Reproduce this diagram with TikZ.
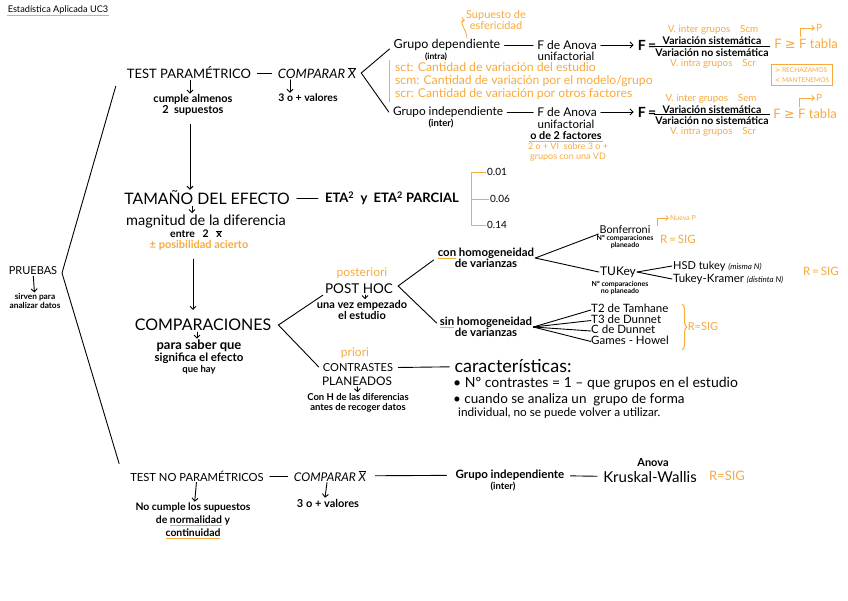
\documentclass[tikz,border=0pt]{standalone}
\usepackage{fontspec}
\setmainfont{Lato}
\newfontfamily\dv{DejaVu Sans}
\usetikzlibrary{arrows.meta,calc,decorations.pathreplacing}
\definecolor{org}{RGB}{248,170,62}
\newcommand\oul[1]{\setbox0\hbox{#1}\rlap{\color{org}\rule[-2.5pt]{\wd0}{0.9pt}}\box0\relax}
\newcommand\mybar[1]{$\overline{\hbox{#1}}$}
\begin{document}
\begin{tikzpicture}[x=1pt,y=-1pt,
 every node/.style={inner sep=1pt,align=center,text=black},
 fs/.style 2 args={font=\fontsize{#1}{#2}\selectfont},
 fb/.style 2 args={font=\fontsize{#1}{#2}\selectfont\bfseries},
 o/.style={text=org},
 ln/.style={line width=0.9pt,line cap=round},
 ar/.style={ln,-{Straight Barb[length=3pt,width=6pt]}},
 oar/.style={draw=org,line width=0.8pt,-{Straight Barb[length=2.5pt,width=5pt]}},
 ol/.style={draw=org,line width=1pt},
 tight/.style={inner sep=0pt,text height=7pt,text depth=1.5pt}]
\useasboundingbox (0,0) rectangle (848,600);
\fill[white] (0,0) rectangle (848,600);

% title
\node[fs={9.2}{10}] (title) at (58,10) {Estadística Aplicada UC3};
\draw[ol] (title.south west) -- (title.south east);

% PRUEBAS
\node[fs={11}{12}] (pru) at (33,271) {PRUEBAS};
\node[fb={8.3}{8.5}] (sirv) at (35,301) {sirven para\\analizar datos};
\draw[ar] (pru) -- (sirv);

% TEST PARAMETRICO row
\node[fs={13}{14}] (tp) at (189,73) {TEST PARAMÉTRICO};
\node[fs={13}{14}] (cmp) at (317,73) {\itshape COMPARAR \mybar{X}};
\draw[ln,shorten <=5pt,shorten >=5pt] (tp) -- (cmp);
\node[fb={11}{10.5}] (cum) at (193,105) {cumple almenos\\2\ \ supuestos};
\node[fb={10.5}{11}] (val) at (308,98) {3 o + valores};
\draw[ar] ([xshift=1pt]tp.south) -- ([xshift=-3pt]cum.north);
\draw[ar] ([xshift=-27pt]cmp.south) -- ([xshift=-18pt]val.north);

% big bracket
\coordinate (btip) at (62,273);
\node[fs={11.2}{13}] (tnp) at (197,476) {TEST NO PARAMÉTRICOS};
\draw[ln] ($(tp.south west)+(-10,6)$) -- (btip) -- ($(tnp.north west)+(-10,-6)$);

% grupo dependiente
\node[fs={12.5}{13}] (gd) at (447,45) {Grupo dependiente};
\node[fb={8.5}{9}] (intra) at (436,57) {(intra)};
\node[fs={11}{10.5},o] (esf) at (496,20) {Supuesto de\\esfericidad};
\draw[oar] ([xshift=20pt]gd.north) to[out=90,in=180] (esf.west);
\node[fs={12}{12}] (fa1) at (567,45) {F de Anova};
\node[fs={11.5}{12}] (uni1) at (566,56) {unifactorial};
\draw[ln,shorten <=3pt,shorten >=3pt] (gd) -- (fa1);
\node[fb={14}{15}] (feq1) at (647,45) {F\,=};
\draw[ar,shorten <=3pt,shorten >=3pt] (fa1) -- (feq1);
\node[fs={9.8}{10},o] (vi1) at (713,30) {V. inter grupos\quad Scm};
\node[fb={10.5}{11}] (vs1) at (712,41) {Variación sistemática};
\node[fb={10.5}{11}] (vn1) at (712,53) {Variación no sistemática};
\node[fs={9.8}{10},o] (vr1) at (713,64) {V. intra grupos\quad Scr};
\draw[ln] ($(vn1.north west)+(0,-1)$) -- ($(vn1.north east)+(0,-1)$);
\node[fs={13}{14},o] (ft1) at (806,44) {F {\dv≥} F tabla};
\node[fs={10}{10},o] (P1) at (819,28) {P};
\draw[oar] ($(ft1.north)+(-6,-1)$) |- (P1.west);
\node[draw=org,line width=1pt,o,fs={6.6}{10},inner sep=3pt,align=left] (box) at (802,75) {{\dv>} RECHAZAMOS\\{\dv<} MANTENEMOS};

% sc lines
\node[fs={12.2}{13},o,anchor=west] (sct) at (394,67) {sct: Cantidad de variación del estudio};
\node[fs={12.2}{13},o,anchor=west] (scm) at (394,81) {scm: Cantidad de variación por el modelo/grupo};
\node[fs={12.2}{13},o,anchor=west] (scr) at (394,94) {scr: Cantidad de variación por otros factores};
\draw[ol] ($(sct.north west)+(-5,-1)$) -- ($(scr.south west)+(-5,1)$);

% grupo independiente
\node[fs={11.8}{12}] (gi) at (448,112) {Grupo independiente};
\node[fb={9.5}{10}] (inter) at (441,124) {(inter)};
\coordinate (ctip) at ($(cmp.east)+(4,0)$);
\draw[ln] ($(gd.west)+(-3,4)$) -- (ctip) -- ($(gi.west)+(-3,0)$);
\node[fs={12}{12}] (fa2) at (567,112) {F de Anova};
\node[fs={11.5}{12}] (uni2) at (566,124) {unifactorial};
\node[fb={10.8}{11}] (o2f) at (566,136) {o de 2 factores};
\draw[ol] (o2f.south west) -- (o2f.south east);
\node[fs={9}{10},o] (note) at (568,152) {2 o + VI\ \ sobre 3 o +\\grupos con una VD};
\draw[ln,shorten <=3pt,shorten >=3pt] (gi) -- (fa2);
\node[fb={14}{15}] (feq2) at (647,112) {F\,=};
\draw[ar,shorten <=3pt,shorten >=3pt] (fa2) -- (feq2);
\node[fs={9.8}{10},o] (vi2) at (711,99) {V. inter grupos\quad Sem};
\node[fb={10.5}{11}] (vs2) at (712,110) {Variación sistemática};
\node[fb={10.5}{11}] (vn2) at (712,121) {Variación no sistemática};
\node[fs={9.8}{10},o] (vr2) at (713,132) {V. intra grupos\quad Scr};
\draw[ln] ($(vn2.north west)+(0,-1)$) -- ($(vn2.north east)+(0,-1)$);
\node[fs={13}{14},o] (ft2) at (805,114) {F {\dv≥} F tabla};
\node[fs={10}{10},o] (P2) at (819,98) {P};
\draw[oar] ($(ft2.north)+(-6,-1)$) |- (P2.west);

% tamano del efecto
\node[fs={15.8}{16}] (tam) at (207,198) {TAMAÑO DEL EFECTO};
\draw[ar] ([xshift=-3pt,yshift=-8pt]cum.south) -- ([xshift=-17pt]tam.north);
\node[fb={13}{14}] (eta) at (392,198) {ETA\textsuperscript{2}\ \ y\ \ ETA\textsuperscript{2} PARCIAL};
\draw[ln,shorten <=6pt,shorten >=6pt] (tam) -- (eta);
\node[fs={10}{10}] (v01) at (497,172) {0.01};
\node[fs={10}{10}] (v06) at (500,199) {0.06};
\node[fs={10}{10}] (v14) at (497,225) {0.14};
\coordinate (bkx) at ($(v01.west)+(-14,0)$);
\draw[ol] (v01.west) -- (bkx) |- (v14.west);
\draw[ol] (bkx |- v06.west) -- (v06.west);
\node[fs={14.5}{15}] (mag) at (206,221) {magnitud de la diferencia};
\draw[ar] ([xshift=-15pt]tam.south) -- ([xshift=-14pt]mag.north);
\node[fb={10.5}{11}] (entre) at (196,234) {entre\ \ \ 2\ \ \ \mybar{x}};
\node[fb={11}{11},o] (pos) at (199,245) {± posibilidad acierto};

% comparaciones
\node[fs={16}{17}] (comp) at (203,325) {COMPARACIONES};
\draw[ar] ([xshift=-6pt,yshift=-8pt]pos.south) -- ([xshift=-10pt,yshift=8pt]comp.north);
\node[fb={13}{11.5}] (para) at (199,357) {para saber que\\{\fontsize{11.5}{11}\selectfont significa el efecto}\\{\fontsize{9.5}{10}\selectfont que hay}};
\draw[ar] ([xshift=-6pt]comp.south) -- ([xshift=-2pt]para.north);
\coordinate (ctip2) at ($(comp.east)+(6,0)$);

% post hoc
\node[fs={12}{12},o] (post) at (362,273) {posteriori};
\node[fs={13.5}{14}] (ph) at (359,289) {POST HOC};
\node[fb={11}{11}] (una) at (362,310) {una vez empezado\\el estudio};
\draw[ar] ([xshift=6pt]ph.south) -- ([xshift=3pt]una.north);

% contrastes
\node[fs={12}{12},o] (pri) at (355,353) {priori};
\node[fs={11}{12}] (ct) at (358,368) {CONTRASTES};
\node[fs={11.8}{12}] (pl) at (357,381) {PLANEADOS};
\node[fb={9.5}{10.5}] (conH) at (358,403) {Con H de las diferencias\\antes de recoger datos};
\draw[ar] (pl) -- (conH);
\draw[ln] ($(ph.south west)+(-1,0)$) -- (ctip2) -- ($(ct.west)+(-3,-1)$);

% homogeneidad
\node[fb={11.4}{11}] (con) at (486,258) {\oul{con} homogeneidad\\de varianzas};
\node[fb={11.4}{11}] (sin) at (486,327) {\oul{sin} homogeneidad\\de varianzas};
\coordinate (ptip) at ($(ph.east)+(4,-3)$);
\draw[ln] ($(con.west)+(-3,2)$) -- (ptip) -- ($(sin.west)+(-2,-4)$);

\node[fs={10.8}{11}] (bon) at (625,230) {Bonferroni};
\node[fb={7}{6.5}] (bonN) at (625,242) {Nº comparaciones\\planeado};
\node[fs={11.5}{12},o] (r1) at (678,239) {R\,=\,SIG};
\node[fs={7}{7},o] (np) at (683,218) {Nueva P};
\draw[oar] ($(bon.north east)+(6,1)$) |- (np.west);
\node[fs={12}{12}] (tuk) at (618,272) {TUKey};
\node[fb={7}{6.5}] (tukN) at (620,288) {Nº comparaciones\\no planeado};
\draw[ln] (con.east) -- ($(bon.west)+(0,4)$);
\draw[ln] (con.east) -- (tuk.west);
\node[fs={11}{11},anchor=west] (hsd) at (672,266) {HSD tukey {\fontsize{8}{8}\selectfont\itshape (misma N)}};
\node[fs={11.5}{11},anchor=west] (tk) at (672,279) {Tukey-Kramer {\fontsize{8}{8}\selectfont\itshape (distinta N)}};
\draw[ln] (tuk.east) -- (hsd.west);
\draw[ln] (tuk.east) -- (tk.west);
\node[fs={11.5}{12},o] (r2) at (821,271) {R\,=\,SIG};

\node[fs={11.5}{11},tight,anchor=west] (t2) at (591,310) {T2 de Tamhane};
\node[fs={11.5}{11},tight,anchor=west] (t3) at (591,320.5) {T3 de Dunnet};
\node[fs={11.5}{11},tight,anchor=west] (cd) at (591,331) {C de Dunnet};
\node[fs={11.5}{11},tight,anchor=west] (gh) at (591,341.5) {Games - Howel};
\foreach \n in {t2,t3,cd,gh} \draw[ln] (sin.east) -- (\n.west);
\draw[ol,decorate,decoration={brace,amplitude=5pt}] (682,304) -- (682,350);
\node[fs={11}{11},o] (r3) at (703,327) {R=SIG};

% caracteristicas
\node[fs={18}{18}] (car) at (513,366) {características:};
\draw[ln,shorten <=4pt,shorten >=4pt] (ct) -- (car);
\node[fs={14}{14},anchor=west] (b1) at (452,384) {\textbullet\ Nº contrastes = 1 – que grupos en el estudio};
\node[fs={13.5}{14},anchor=west] (b2) at (452,400) {\textbullet\ cuando se analiza un\ \ grupo de forma};
\node[fs={11.8}{12},anchor=west] (b3) at (457,413) {individual, no se puede volver a utilizar.};

% no parametricos
\node[fs={12}{13}] (cmp2) at (330,476) {\itshape COMPARAR \mybar{X}};
\draw[ln,shorten <=5pt,shorten >=5pt] (tnp) -- (cmp2);
\node[fb={11.5}{12}] (gi2) at (510,475) {Grupo independiente};
\node[fb={9.5}{10}] (int2) at (503,487) {(inter)};
\draw[ln,shorten <=8pt,shorten >=8pt] (cmp2) -- (gi2);
\node[fs={15}{15}] (kw) at (650,477) {Kruskal-Wallis};
\node[fb={11}{11}] (anova) at (653,463) {Anova};
\draw[ln,shorten <=5pt,shorten >=5pt] (gi2) -- (kw);
\node[fs={13}{13},o] (r4) at (727,476) {R=SIG};
\node[fb={10.4}{13}] (nc) at (193,521) {No cumple los supuestos\\de \oul{normalidad} y\\\oul{continuidad}};
\draw[ar] (tnp) -- (nc);
\node[fb={11}{11}] (v3) at (328,503) {3 o + valores};
\draw[ar] ([xshift=-3pt]cmp2.south) -- ([xshift=-3pt]v3.north);
\end{tikzpicture}
\end{document}
